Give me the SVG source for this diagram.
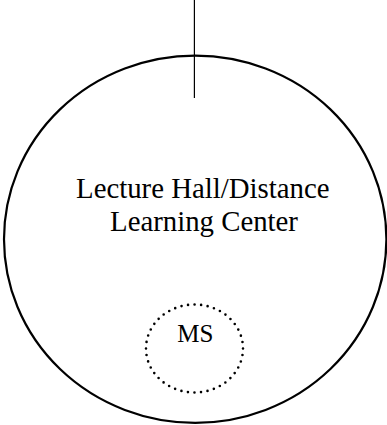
<svg xmlns="http://www.w3.org/2000/svg" width="387" height="425" viewBox="0 0 387 425">
<style>
.lbl{font-family:"Liberation Serif","Times New Roman",serif;fill:#000;text-anchor:middle}
</style>
<defs>
<clipPath id="clipText"><rect x="0" y="150" width="330.5" height="100"/></clipPath>
</defs>
<rect width="387" height="425" fill="#fff"/>
<g id="hall">
<ellipse cx="195.2" cy="239.2" rx="191.2" ry="183.6" fill="none" stroke="#000" stroke-width="2.2"/>
<g clip-path="url(#clipText)">
<text class="lbl" x="202.8" y="197.5" font-size="28.8">Lecture Hall/Distance</text>
</g>
<text class="lbl" x="204" y="231.3" font-size="28.8">Learning Center</text>
</g>
<g id="ms">
<ellipse cx="194.5" cy="348.5" rx="48.5" ry="44" fill="none" stroke="#000" stroke-width="2.6" stroke-linecap="round" stroke-dasharray="0 6.6"/>
<text class="lbl" x="195.3" y="342.3" font-size="25">MS</text>
</g>
<g id="connectors">
<line x1="194.4" y1="0" x2="194.4" y2="98" stroke="#000" stroke-width="1.2"/>
</g>
</svg>
